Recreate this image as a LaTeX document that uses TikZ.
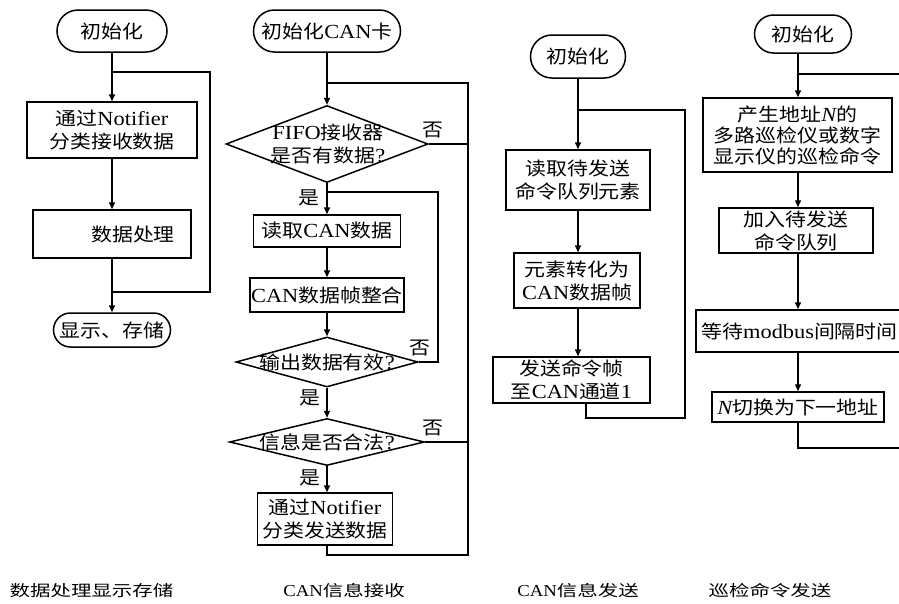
\documentclass[tikz,border=0pt]{standalone}
\usepackage{fontspec}
\setmainfont[FakeStretch=1.13]{Noto Sans CJK SC}
\newfontfamily\lat[Scale=1.08,FakeStretch=1.12]{Liberation Serif}
\newfontfamily\capfont[FakeStretch=1.32]{Noto Sans CJK SC}
\usetikzlibrary{arrows.meta,shapes.geometric}
\newcommand\mainsz{\fontsize{18.5}{23}\selectfont}
\newcommand\capsz{\fontsize{15.5}{18}\selectfont\capfont}
\tikzset{
  conn/.style={line width=1.5pt},
  arr/.style={line width=1.5pt,-{Triangle[length=7pt,width=6pt]}},
  box/.style={draw,line width=1.5pt,rectangle,inner sep=0pt,align=center,font=\mainsz},
  term/.style={draw,line width=1.5pt,rectangle,inner sep=0pt,align=center,font=\mainsz},
  dia/.style={draw,line width=1.5pt,diamond,inner sep=0pt},
  txt/.style={inner sep=0pt,align=center,font=\mainsz},
  lbl/.style={inner sep=0pt,font=\mainsz},
  captxt/.style={inner sep=0pt,font=\capsz}
}
\begin{document}
\begin{tikzpicture}[x=1pt,y=-1pt]
\clip (0,0) rectangle (899,603);
% ---------- column 1 ----------
\node[term,minimum width=110pt,minimum height=42pt,rounded corners=21pt] (t1) at (112,31) {初始化};
\node[box,minimum width=170pt,minimum height=56pt] (b11) at (112,130) {通过{\lat Notifier}\\分类接收数据};
\node[box,minimum width=158pt,minimum height=48pt] (b12) at (112,234) {\hspace*{42pt}数据处理};
\node[term,minimum width=117pt,minimum height=34pt,rounded corners=17pt] (t12) at (112,330) {显示、存储};
\coordinate (j1a) at (112,72);
\coordinate (j1b) at (112,292);
\coordinate (r1a) at (210,72);
\coordinate (r1b) at (210,292);
\draw[arr] (t1.south) -- (b11.north);
\draw[arr] (b11.south) -- (b12.north);
\draw[arr] (b12.south) -- (t12.north);
\draw[conn] (j1b) -- (r1b) -- (r1a) -- (j1a);
% ---------- column 2 ----------
\node[term,minimum width=147pt,minimum height=42pt,rounded corners=21pt] (t2) at (327,31) {初始化{\lat CAN}卡};
\coordinate (j2a) at (327,83);
\coordinate (r2a) at (468,83);
\node[dia,minimum width=202pt,minimum height=77pt] (d21) at (327,144) {};
\node[txt] (d21t) at (328,144) {{\lat FIFO}接收器\\是否有数据{\lat ?}};
\node[lbl] (n21) at (433,130) {否};
\coordinate (r2d1) at (468,144);
\node[lbl] (y21) at (309,198) {是};
\coordinate (j2b) at (327,192);
\coordinate (r2b) at (438,192);
\node[box,minimum width=147pt,minimum height=32pt] (b21) at (327,231) {读取{\lat CAN}数据};
\node[box,minimum width=154pt,minimum height=34pt] (b22) at (327,295) {{\lat CAN}数据帧整合};
\node[dia,minimum width=182pt,minimum height=50pt] (d22) at (327,362) {};
\node[txt] (d22t) at (327,362) {输出数据有效{\lat ?}};
\node[lbl] (n22) at (420,348) {否};
\coordinate (r2d2) at (438,362);
\node[lbl] (y22) at (310,398) {是};
\node[dia,minimum width=195pt,minimum height=47pt] (d23) at (327,442) {};
\node[txt] (d23t) at (327,442) {信息是否合法{\lat ?}};
\node[lbl] (n23) at (433,428) {否};
\coordinate (r2d3) at (468,442);
\node[lbl] (y23) at (310,478) {是};
\node[box,minimum width=135pt,minimum height=52pt] (b23) at (325,519) {通过{\lat Notifier}\\分类发送数据};
\coordinate (j2c) at (327,555);
\coordinate (r2c) at (468,555);
\draw[arr] (t2.south) -- (d21.north);
\draw[arr] (d21.south) -- (b21.north);
\draw[arr] (b21.south) -- (b22.north);
\draw[arr] (b22.south) -- (d22.north);
\draw[arr] (d22.south) -- (d23.north);
\draw[arr] (d23.south) -- (d23.south |- b23.north);
\draw[conn] (d21.east) -- (r2d1);
\draw[conn] (d22.east) -- (r2d2) -- (r2b) -- (j2b);
\draw[conn] (d23.east) -- (r2d3);
\draw[conn] (b23.south -| j2c) -- (j2c) -- (r2c) -- (r2a) -- (j2a);
% ---------- column 3 ----------
\node[term,minimum width=95pt,minimum height=43pt,rounded corners=21.5pt] (t3) at (578,56.5) {初始化};
\coordinate (j3a) at (578,110);
\coordinate (r3a) at (685,110);
\node[box,minimum width=144pt,minimum height=60pt] (b31) at (578,180) {读取待发送\\命令队列元素};
\node[box,minimum width=126pt,minimum height=55pt] (b32) at (577,280.5) {元素转化为\\{\lat CAN}数据帧};
\node[box,minimum width=157pt,minimum height=46pt] (b33) at (571.5,380) {发送命令帧\\至{\lat CAN}通道{\lat 1}};
\coordinate (j3b) at (586,418);
\coordinate (r3b) at (685,418);
\draw[arr] (t3.south) -- (b31.north);
\draw[arr] (b31.south) -- (b31.south |- b32.north);
\draw[arr] (b31.south |- b32.south) -- (b31.south |- b33.north);
\draw[conn] (b33.south -| j3b) -- (j3b) -- (r3b) -- (r3a) -- (j3a);
% ---------- column 4 ----------
\node[term,minimum width=97pt,minimum height=38pt,rounded corners=19pt] (t4) at (803,34) {初始化};
\coordinate (j4a) at (798,74);
\coordinate (r4a) at (905,74);
\node[box,minimum width=189pt,minimum height=74pt,font=\fontsize{18.5}{21}\selectfont] (b41) at (797.5,135) {产生地址{\lat\itshape N}的\\多路巡检仪或数字\\显示仪的巡检命令};
\node[box,minimum width=154pt,minimum height=45pt] (b42) at (796,230.5) {加入待发送\\命令队列};
\node[box,minimum width=214pt,minimum height=42pt] (b43) at (803,331) {\hspace*{-7pt}等待{\lat modbus}间隔时间};
\node[box,minimum width=172pt,minimum height=30pt] (b44) at (798,407) {{\lat\itshape N}切换为下一地址};
\coordinate (j4b) at (798,448);
\coordinate (r4b) at (905,448);
\draw[arr] (t4.south -| j4a) -- (b41.north -| j4a);
\draw[arr] (b41.south -| j4a) -- (b42.north -| j4a);
\draw[arr] (b42.south -| j4a) -- (b43.north -| j4a);
\draw[arr] (b43.south -| j4a) -- (b44.north -| j4a);
\draw[conn] (b44.south -| j4b) -- (j4b) -- (r4b);
\draw[conn] (r4a) -- (j4a);
% ---------- captions ----------
\node[captxt] (c1) at (91.5,591) {数据处理显示存储};
\node[captxt] (c2) at (344,591) {{\lat CAN}信息接收};
\node[captxt] (c3) at (578,591) {{\lat CAN}信息发送};
\node[captxt] (c4) at (770,591) {巡检命令发送};
\end{tikzpicture}
\end{document}
